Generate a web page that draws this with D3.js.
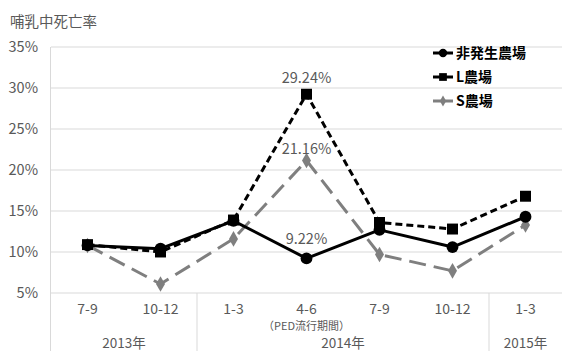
<!DOCTYPE html>
<html><head><meta charset="utf-8">
<script src="https://cdn.jsdelivr.net/npm/d3@7/dist/d3.min.js"></script>
<style>body{margin:0;background:#fff;}svg{display:block;font-family:"Noto Sans CJK JP","Noto Sans",sans-serif;}</style>
</head><body>
<svg id="c" width="562" height="351"></svg>
<script>
const categories = ["7-9","10-12","1-3","4-6","7-9","10-12","1-3"];
const years = [{label:"2013年", from:0, to:2},{label:"2014年", from:2, to:6},{label:"2015年", from:6, to:7}];
const seriesNames = ["非発生農場","L農場","S農場"];
const nonOutbreak = [10.8, 10.4, 13.8, 9.22, 12.7, 10.6, 14.3];
const farmL = [10.9, 10.0, 13.9, 29.24, 13.6, 12.8, 16.8];
const farmS = [10.8, 6.1, 11.6, 21.16, 9.7, 7.7, 13.3];
const yTicks = [5,10,15,20,25,30,35];
const annotations = [{series:1, idx:3, text:"29.24%"},{series:2, idx:3, text:"21.16%"},{series:0, idx:3, text:"9.22%"}];

const svg = d3.select("#c");
const L = 51, R = 562, T = 47, B = 293;
const x = d3.scaleBand().domain(d3.range(categories.length)).range([L, R]);
const y = d3.scaleLinear().domain([5, 35]).range([B, T]);
const xc = i => x(i) + x.bandwidth()/2;

// title
svg.append("text").attr("x",10).attr("y",27).attr("font-size",14.5).attr("fill","#595959").text("哺乳中死亡率");

// grid
svg.append("g").selectAll("line").data(yTicks).join("line")
  .attr("x1",L).attr("x2",R).attr("y1",d=>y(d)).attr("y2",d=>y(d))
  .attr("stroke","#d9d9d9").attr("stroke-width",1);
svg.append("g").selectAll("text").data(yTicks).join("text")
  .attr("x",38).attr("y",d=>y(d)+5).attr("text-anchor","end").attr("font-size",14.5).attr("fill","#595959")
  .text(d=>d+"%");

// separators
svg.append("line").attr("x1",L-0.5).attr("x2",L-0.5).attr("y1",T).attr("y2",351).attr("stroke","#d9d9d9");
years.slice(1).forEach(yr=>{
  svg.append("line").attr("x1",x(yr.from)).attr("x2",x(yr.from)).attr("y1",B).attr("y2",351).attr("stroke","#d9d9d9");
});

// category labels
svg.append("g").selectAll("text").data(categories).join("text")
  .attr("x",(d,i)=>xc(i)).attr("y",314).attr("text-anchor","middle").attr("font-size",14).attr("fill","#595959").text(d=>d);
svg.append("text").attr("x",xc(3)).attr("y",330).attr("text-anchor","middle").attr("font-size",11).attr("fill","#595959").text("（PED流行期間）");
years.forEach(yr=>{
  const cx = (x(yr.from) + (yr.to<categories.length ? x(yr.to) : R))/2;
  svg.append("text").attr("x",cx).attr("y",348).attr("text-anchor","middle").attr("font-size",13.5).attr("fill","#595959").text(yr.label);
});

const data = [nonOutbreak, farmL, farmS];
const styles = [
  {color:"#000", dash:null, width:3, sym:d3.symbolCircle, size:110},
  {color:"#000", dash:"7,4", width:3, sym:d3.symbolSquare, size:120},
  {color:"#7f7f7f", dash:"17,8", width:3, sym:d3.symbolDiamond, size:70}
];
const line = d3.line().x((d,i)=>xc(i)).y(d=>y(d));
[2,1,0].forEach(s=>{
  const st = styles[s];
  svg.append("path").datum(data[s]).attr("d",line).attr("fill","none")
    .attr("stroke",st.color).attr("stroke-width",st.width).attr("stroke-dasharray",st.dash)
    .attr("stroke-linejoin","round");
  svg.append("g").selectAll("path").data(data[s]).join("path")
    .attr("transform",(d,i)=>`translate(${xc(i)},${y(d)})`)
    .attr("d",d3.symbol(st.sym, st.size)).attr("fill",st.color);
});

// annotations
const labelGap = [14, 11, 6];
annotations.forEach(a=>{
  const v = data[a.series][a.idx];
  svg.append("text").attr("x",xc(a.idx)).attr("y",y(v)-labelGap[a.series]).attr("text-anchor","middle")
    .attr("font-size",14.5).attr("fill","#595959").text(a.text);
});

// legend
seriesNames.forEach((n,i)=>{
  const st = styles[i];
  const ly = 53 + i*24;
  const g = svg.append("g");
  g.append("line").attr("x1",433).attr("x2",453).attr("y1",ly).attr("y2",ly).attr("stroke",st.color).attr("stroke-width",3);
  g.append("path").attr("transform",`translate(443,${ly})`).attr("d",d3.symbol(st.sym, st.size*0.5)).attr("fill",st.color);
  g.append("text").attr("x",456).attr("y",ly+5).attr("font-size",14).attr("font-weight","bold").attr("fill","#000").text(n);
});
</script>
</body></html>
